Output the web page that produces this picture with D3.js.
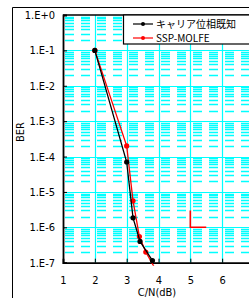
<!DOCTYPE html>
<html>
<head>
<meta charset="utf-8">
<script src="https://cdnjs.cloudflare.com/ajax/libs/d3/7.8.5/d3.min.js"></script>
<style>
  body { margin: 0; background: #fff; }
  svg { display: block; }
  .tick-label { font-family: "Liberation Sans Narrow", "DejaVu Sans Condensed", "Liberation Sans", sans-serif; font-size: 11px; fill: #000; }
  .legend-text { font-family: "Noto Sans CJK JP", "Liberation Sans", sans-serif; font-size: 10px; fill: #000; }
</style>
</head>
<body>
<svg width="249" height="298"></svg>
<script>
// series
const knownX = [2, 3, 3.2, 3.42, 3.81];
const knownY = [1e-1, 7e-5, 1.85e-6, 4e-7, 1.15e-7];
const mlfX = [2, 3, 3.2, 3.4, 3.6, 3.85];
const mlfY = [1e-1, 2e-4, 5.6e-6, 5.5e-7, 2e-7, 8e-8];
const strayX = [5, 5, 5.5];
const strayY = [3e-6, 1e-6, 1e-6];

const seriesNames = ["キャリア位相既知", "SSP-MOLFE"];
const seriesColors = ["#000000", "#ff0000"];
const xTicks = [1, 2, 3, 4, 5, 6];
const yTicks = [1e0, 1e-1, 1e-2, 1e-3, 1e-4, 1e-5, 1e-6, 1e-7];
const yTickLabels = ["1.E+0", "1.E-1", "1.E-2", "1.E-3", "1.E-4", "1.E-5", "1.E-6", "1.E-7"];

const svg = d3.select("svg");
const pL = 63, pT = 15, pR = 254, pB = 262.7;

const x = d3.scaleLinear().domain([1, 7]).range([pL, pR]);
const y = d3.scaleLog().domain([1e-7, 1]).range([pB, pT]);

// outer chart frame (only top/left visible)
svg.append("line").attr("x1", 12.5).attr("x2", 249).attr("y1", 7.5).attr("y2", 7.5).attr("stroke", "#000");
svg.append("line").attr("x1", 12.5).attr("x2", 12.5).attr("y1", 7.5).attr("y2", 298).attr("stroke", "#000");

svg.append("defs").append("clipPath").attr("id", "clip")
  .append("rect").attr("x", pL).attr("y", pT).attr("width", pR - pL).attr("height", pB - pT + 3);

const grid = svg.append("g");
// minor horizontal grid (dashed)
const minors = [];
for (let e = -7; e < 0; e++) for (let m = 2; m <= 9; m++) minors.push(m * Math.pow(10, e));
grid.selectAll(".minor").data(minors).join("line")
  .attr("x1", pL).attr("x2", pR)
  .attr("y1", d => Math.round(y(d)) + 0.5).attr("y2", d => Math.round(y(d)) + 0.5)
  .attr("stroke", "#00ffff").attr("stroke-width", 1.6)
  .attr("stroke-dasharray", "9,7").attr("stroke-dashoffset", -2);
// major horizontal
grid.selectAll(".major").data(yTicks.slice(1, -1)).join("line")
  .attr("x1", pL).attr("x2", pR)
  .attr("y1", d => Math.round(y(d)) + 0.5).attr("y2", d => Math.round(y(d)) + 0.5)
  .attr("stroke", "#00ffff").attr("stroke-width", 1.2);
// vertical
grid.selectAll(".vert").data(xTicks.slice(1)).join("line")
  .attr("x1", d => Math.round(x(d)) + 0.5).attr("x2", d => Math.round(x(d)) + 0.5)
  .attr("y1", pT).attr("y2", pB)
  .attr("stroke", "#00ffff").attr("stroke-width", 1.2);

// axes with inward ticks
const xAxis = svg.append("g").attr("transform", `translate(0,${pB})`)
  .call(d3.axisBottom(x).tickValues(xTicks).tickSize(-4).tickPadding(14).tickFormat(d3.format("d")));
xAxis.select(".domain").attr("stroke-width", 1.8);
xAxis.selectAll("text").attr("class", "tick-label").attr("font-size", null).attr("font-family", null);

const yAxis = svg.append("g").attr("transform", `translate(${pL},0)`)
  .call(d3.axisLeft(y).tickValues(yTicks).tickSize(-4).tickPadding(8).tickFormat((d, i) => yTickLabels[i]));
yAxis.select(".domain").attr("stroke-width", 1.8);
yAxis.selectAll("text").attr("class", "tick-label").attr("font-size", null).attr("font-family", null);

// top border of plot
svg.append("line").attr("x1", pL).attr("x2", pR).attr("y1", pT).attr("y2", pT).attr("stroke", "#000").attr("stroke-width", 1.5);

// series
const line = d3.line().x(d => x(d[0])).y(d => y(d[1]));
const plot = svg.append("g").attr("clip-path", "url(#clip)");
const series = [
  { pts: d3.zip(knownX, knownY), color: seriesColors[0] },
  { pts: d3.zip(mlfX, mlfY), color: seriesColors[1] }
];
series.slice().reverse().forEach(s => {
  plot.append("path").datum(s.pts).attr("d", line)
    .attr("fill", "none").attr("stroke", s.color).attr("stroke-width", 1.3);
  plot.selectAll(null).data(s.pts.filter(p => p[1] >= 1e-7)).join("circle")
    .attr("cx", d => x(d[0])).attr("cy", d => y(d[1])).attr("r", 2.6)
    .attr("fill", s.color);
});
plot.append("path").datum(d3.zip(strayX, strayY)).attr("d", line)
  .attr("fill", "none").attr("stroke", "#ff0000").attr("stroke-width", 1.6);

// legend
const lg = svg.append("g");
lg.append("rect").attr("x", 123.5).attr("y", 15).attr("width", 140).attr("height", 29)
  .attr("fill", "#fff").attr("stroke", "#000").attr("stroke-width", 1.2);
seriesNames.forEach((name, i) => {
  const ly = 24 + i * 14;
  lg.append("line").attr("x1", 133).attr("x2", 153).attr("y1", ly).attr("y2", ly)
    .attr("stroke", seriesColors[i]).attr("stroke-width", 1.2);
  lg.append("circle").attr("cx", 143).attr("cy", ly).attr("r", 2).attr("fill", seriesColors[i]);
  lg.append("text").attr("class", "legend-text").attr("x", 156).attr("y", ly + 3.5).text(name);
});

// axis titles
svg.append("text").attr("class", "tick-label").attr("text-anchor", "middle")
  .attr("transform", `translate(24,132) rotate(-90)`).text("BER");
svg.append("text").attr("class", "tick-label").attr("text-anchor", "middle")
  .attr("x", 157).attr("y", 296).text("C/N(dB)");
</script>
</body>
</html>
